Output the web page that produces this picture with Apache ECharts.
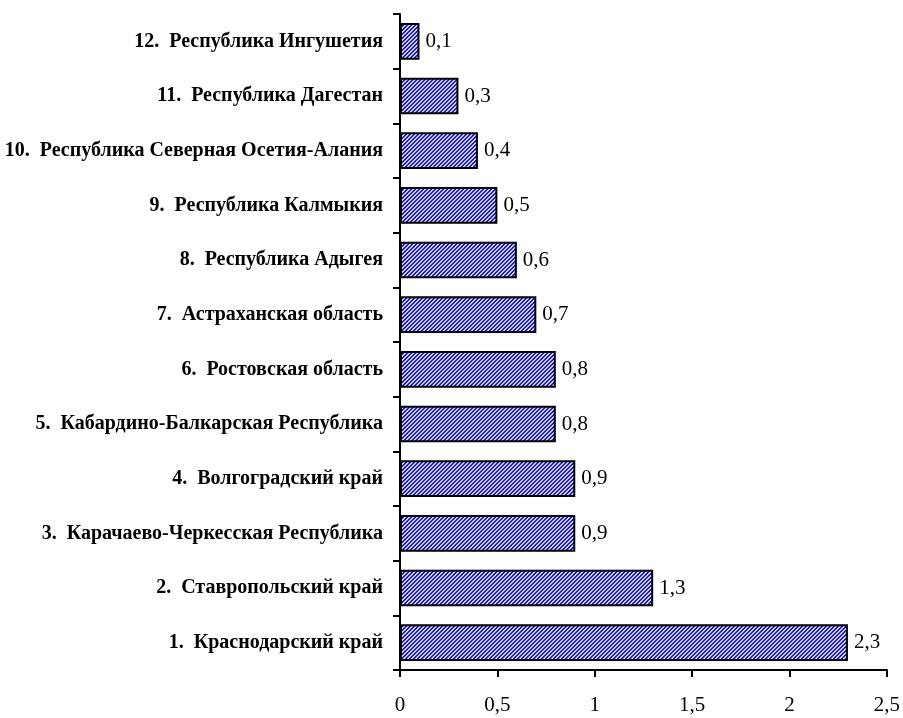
<!DOCTYPE html>
<html><head><meta charset="utf-8">
<script src="https://cdn.jsdelivr.net/npm/echarts@6/dist/echarts.min.js"></script>
<style>html,body{margin:0;padding:0;background:#fff}#c{width:903px;height:718px}</style>
</head><body><div id="c"></div>
<script>
const categories = [
  '1.  Краснодарский край',
  '2.  Ставропольский край',
  '3.  Карачаево-Черкесская Республика',
  '4.  Волгоградский край',
  '5.  Кабардино-Балкарская Республика',
  '6.  Ростовская область',
  '7.  Астраханская область',
  '8.  Республика Адыгея',
  '9.  Республика Калмыкия',
  '10.  Республика Северная Осетия-Алания',
  '11.  Республика Дагестан',
  '12.  Республика Ингушетия'
];
const values = [2.3, 1.3, 0.9, 0.9, 0.8, 0.8, 0.7, 0.6, 0.5, 0.4, 0.3, 0.1];
const xTicks = [0, 0.5, 1, 1.5, 2, 2.5];

function makePattern(){
  const c = document.createElement('canvas');
  c.width = 4; c.height = 4;
  const g = c.getContext('2d');
  g.fillStyle = '#c8c8ff'; g.fillRect(0,0,4,4);
  g.fillStyle = '#2020a0';
  for (let i=0;i<4;i++){ g.fillRect(i,3-i,1,1); g.fillRect((i+1)%4,3-i,1,1); }
  return c;
}
const fmt = v => String(v).replace('.', ',');
const chart = echarts.init(document.getElementById('c'), null, {renderer:'canvas'});
chart.setOption({
  animation:false,
  backgroundColor:'#fff',
  grid:{left:400, right:16, top:14, bottom:48, containLabel:false},
  xAxis:{
    type:'value', min:xTicks[0], max:xTicks[xTicks.length-1], interval:0.5,
    axisLine:{show:true, lineStyle:{color:'#000', width:2}},
    axisTick:{show:true, length:7, lineStyle:{color:'#000', width:2}},
    splitLine:{show:false},
    axisLabel:{formatter:fmt, color:'#000', fontFamily:'Liberation Serif', fontSize:21, margin:25}
  },
  yAxis:{
    type:'category', data:categories,
    axisLine:{show:true, lineStyle:{color:'#000', width:2}},
    axisTick:{show:true, length:7, lineStyle:{color:'#000', width:2}},
    axisLabel:{color:'#000', fontFamily:'Liberation Serif', fontWeight:'bold', fontSize:20, margin:17}
  },
  series:[{
    type:'bar', data:values, barWidth:'67%',
    itemStyle:{color:{image:makePattern(), repeat:'repeat'}, borderColor:'#000', borderWidth:2},
    label:{show:true, position:'right', distance:6, formatter:p=>fmt(p.value), color:'#000', fontFamily:'Liberation Serif', fontSize:21}
  }]
});
</script></body></html>
